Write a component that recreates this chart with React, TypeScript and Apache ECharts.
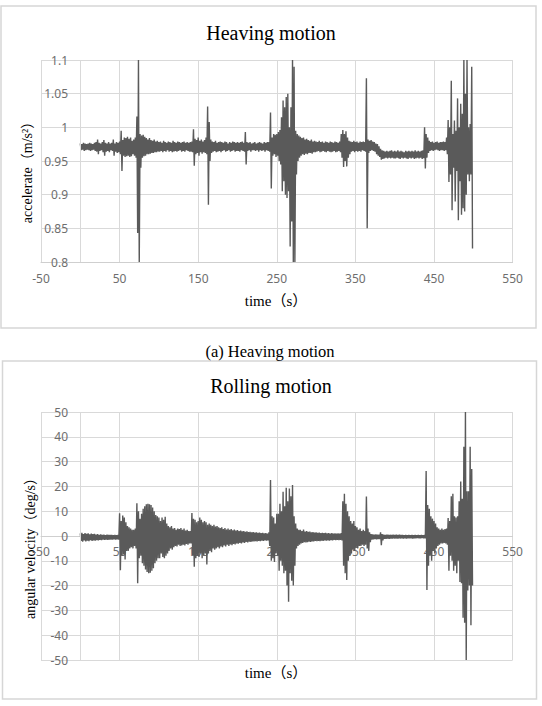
import React, { useEffect, useRef } from "react";
import * as echarts from "echarts";

// ---- Heaving motion: acceleration band (upper / lower sample at each 2 s step) ----
const heaveHigh: number[] = [
  0.976, 0.975, 0.977, 0.976, 0.975, 0.976, 0.977, 0.976, 0.975, 0.977,
  0.978, 0.982, 0.977, 0.976, 0.978, 0.981, 0.977, 0.976, 0.978, 0.976,
  0.977, 0.982, 0.976, 0.978, 0.977, 0.979, 0.995, 0.981, 0.985, 0.984,
  0.986, 0.983, 0.985, 0.980, 0.982, 0.985, 1.016, 1.100, 0.990, 0.988,
  0.989, 0.986, 0.984, 0.982, 0.984, 0.981, 0.980, 0.982, 0.979, 0.980,
  0.978, 0.979, 0.977, 0.980, 0.978, 0.977, 0.979, 0.978, 0.977, 0.980,
  0.978, 0.977, 0.979, 0.978, 0.977, 0.978, 0.979, 0.977, 0.978, 0.977,
  0.978, 0.979, 0.997, 0.983, 0.981, 0.985, 0.980, 0.982, 0.979, 0.981,
  0.985, 1.031, 1.008, 0.982, 0.979, 0.978, 0.980, 0.977, 0.978, 0.979,
  0.978, 0.977, 0.979, 0.978, 0.976, 0.978, 0.977, 0.979, 0.978, 0.977,
  0.978, 0.977, 0.978, 0.979, 0.977, 0.993, 0.978, 0.977, 0.978, 0.976,
  0.977, 0.978, 0.976, 0.977, 0.978, 0.977, 0.976, 0.978, 0.977, 0.978,
  0.978, 1.022, 0.985, 0.990, 0.989, 0.990, 0.993, 0.996, 1.015, 1.040,
  1.030, 1.045, 1.050, 1.000, 1.030, 1.100, 1.090, 0.995, 0.990, 0.988,
  0.986, 0.984, 0.985, 0.982, 0.983, 0.981, 0.980, 0.982, 0.979, 0.980,
  0.979, 0.978, 0.980, 0.978, 0.979, 0.977, 0.979, 0.978, 0.977, 0.979,
  0.978, 0.977, 0.979, 0.978, 0.977, 0.979, 0.990, 0.996, 0.990, 0.994,
  0.985, 0.980, 0.979, 0.978, 0.980, 0.978, 0.979, 0.977, 0.979, 0.978,
  0.979, 0.978, 1.073, 0.982, 0.980, 0.981, 0.979, 0.978, 0.976, 0.975,
  0.972, 0.968, 0.966, 0.965, 0.964, 0.965, 0.964, 0.965, 0.966, 0.964,
  0.965, 0.964, 0.966, 0.964, 0.965, 0.964, 0.963, 0.965, 0.964, 0.965,
  0.964, 0.965, 0.964, 0.966, 0.964, 0.965, 0.964, 0.965, 0.966, 1.000,
  0.990, 0.985, 0.980, 0.978, 0.979, 0.977, 0.978, 0.979, 0.977, 0.978,
  0.978, 0.979, 0.978, 0.985, 1.011, 1.000, 1.069, 0.990, 1.010, 0.995,
  1.043, 1.000, 1.035, 1.020, 1.100, 1.050, 1.100, 1.000, 1.005, 1.090,
];
const heaveLow: number[] = [
  0.966, 0.967, 0.965, 0.966, 0.967, 0.966, 0.965, 0.966, 0.967, 0.965,
  0.964, 0.960, 0.965, 0.966, 0.963, 0.958, 0.964, 0.965, 0.963, 0.966,
  0.965, 0.958, 0.964, 0.962, 0.963, 0.960, 0.935, 0.958, 0.956, 0.957,
  0.958, 0.956, 0.957, 0.960, 0.958, 0.955, 0.843, 0.800, 0.940, 0.955,
  0.957, 0.958, 0.960, 0.960, 0.961, 0.962, 0.962, 0.963, 0.963, 0.964,
  0.964, 0.965, 0.963, 0.965, 0.964, 0.966, 0.964, 0.965, 0.963, 0.964,
  0.965, 0.964, 0.965, 0.966, 0.964, 0.965, 0.964, 0.966, 0.965, 0.964,
  0.964, 0.963, 0.943, 0.960, 0.962, 0.958, 0.963, 0.961, 0.963, 0.962,
  0.960, 0.885, 0.950, 0.962, 0.964, 0.965, 0.963, 0.964, 0.965, 0.963,
  0.965, 0.966, 0.964, 0.965, 0.966, 0.964, 0.965, 0.966, 0.964, 0.965,
  0.965, 0.964, 0.966, 0.965, 0.964, 0.945, 0.965, 0.966, 0.964, 0.966,
  0.966, 0.965, 0.966, 0.964, 0.966, 0.965, 0.966, 0.964, 0.966, 0.965,
  0.964, 0.909, 0.958, 0.960, 0.956, 0.958, 0.950, 0.945, 0.905, 0.920,
  0.900, 0.895, 0.905, 0.823, 0.860, 0.800, 0.800, 0.930, 0.950, 0.955,
  0.958, 0.960, 0.959, 0.961, 0.960, 0.962, 0.962, 0.961, 0.963, 0.963,
  0.964, 0.965, 0.963, 0.964, 0.965, 0.964, 0.963, 0.965, 0.964, 0.963,
  0.964, 0.965, 0.963, 0.964, 0.965, 0.963, 0.955, 0.941, 0.950, 0.942,
  0.955, 0.960, 0.964, 0.965, 0.963, 0.965, 0.964, 0.965, 0.964, 0.966,
  0.965, 0.964, 0.850, 0.962, 0.965, 0.966, 0.965, 0.964, 0.960, 0.958,
  0.956, 0.952, 0.953, 0.954, 0.955, 0.954, 0.955, 0.954, 0.955, 0.954,
  0.954, 0.955, 0.954, 0.953, 0.955, 0.954, 0.955, 0.954, 0.953, 0.955,
  0.954, 0.955, 0.953, 0.954, 0.955, 0.954, 0.955, 0.953, 0.954, 0.939,
  0.955, 0.962, 0.965, 0.966, 0.965, 0.966, 0.967, 0.966, 0.965, 0.966,
  0.966, 0.965, 0.966, 0.960, 0.919, 0.930, 0.877, 0.940, 0.890, 0.935,
  0.862, 0.920, 0.870, 0.880, 0.875, 0.900, 0.930, 0.920, 0.930, 0.820,
];

// ---- Rolling motion: angular velocity band (upper / lower sample at each 2 s step) ----
const rollHigh: number[] = [
  1.0, 1.3, 0.8, 1.2, 0.9, 1.1, 0.7, 1.0, 0.8, 0.9,
  0.6, 0.8, 0.5, 0.7, 0.5, 0.6, 0.4, 0.6, 0.5, 0.5,
  0.5, 0.4, 0.5, 0.4, 0.5, 9.2, 6.0, 8.3, 7.5, 5.5,
  4.0, 3.5, 3.0, 2.5, 2.5, 3.0, 13.2, 10.0, 7.0, 9.0,
  11.0, 12.0, 12.8, 13.0, 12.8, 12.5, 11.5, 10.0, 8.5, 8.0,
  7.5, 6.0, 7.5, 6.5, 7.8, 5.0, 4.0, 3.5, 4.0, 3.0,
  3.2, 2.5, 3.0, 2.8, 3.2, 2.5, 3.0, 2.2, 2.5, 2.0,
  2.0, 9.3, 7.0, 6.5, 5.5, 6.0, 7.5, 6.5, 5.5, 6.0,
  5.5, 4.5, 5.0, 4.5, 4.0, 4.5, 3.8, 4.0, 3.5, 3.2,
  3.5, 2.8, 3.2, 2.6, 3.0, 2.5, 2.8, 2.3, 2.6, 2.2,
  2.4, 2.0, 2.2, 1.9, 2.0, 1.7, 1.9, 1.6, 1.7, 1.5,
  1.6, 1.4, 1.5, 1.3, 1.4, 1.2, 1.3, 1.1, 1.2, 1.0,
  1.5, 22.6, 8.0, 7.5, 5.0, 9.0, 9.0, 13.0, 10.0, 17.8,
  12.0, 19.5, 14.0, 19.2, 16.0, 20.6, 8.0, 5.0, 3.0, 2.5,
  2.5, 2.0, 2.6, 1.8, 2.0, 1.7, 1.8, 1.5, 1.6, 1.4,
  1.5, 1.3, 1.4, 1.2, 1.3, 1.2, 1.3, 1.1, 1.2, 1.0,
  1.2, 1.0, 1.1, 1.0, 1.1, 1.0, 1.2, 14.0, 17.0, 13.0,
  10.0, 8.0, 6.0, 5.0, 6.0, 4.0, 3.5, 2.5, 3.0, 2.0,
  2.5, 2.0, 15.9, 3.0, 1.5, 0.8, 0.7, 0.6, 0.7, 0.6,
  0.6, 1.5, 0.8, 0.6, 0.5, 0.6, 0.5, 0.5, 0.4, 0.5,
  0.4, 0.5, 0.4, 0.5, 0.4, 0.4, 0.3, 0.4, 0.3, 0.4,
  0.3, 0.4, 0.3, 0.4, 0.3, 0.4, 0.3, 0.4, 0.3, 0.4,
  26.2, 12.5, 11.0, 8.0, 7.0, 6.0, 5.0, 3.5, 3.0, 2.5,
  3.0, 2.5, 2.8, 3.0, 7.3, 6.0, 16.0, 17.0, 8.0, 7.5,
  8.0, 14.0, 22.0, 15.0, 36.0, 50.0, 18.0, 18.0, 36.0, 27.0,
];
const rollLow: number[] = [
  -2.0, -2.3, -1.8, -2.2, -1.9, -2.1, -1.7, -2.0, -1.8, -1.9,
  -1.7, -1.8, -1.6, -1.7, -1.5, -1.6, -1.5, -1.6, -1.5, -1.5,
  -1.5, -1.4, -1.5, -1.4, -1.5, -13.8, -8.0, -7.5, -9.5, -6.0,
  -6.0, -5.0, -4.5, -5.0, -4.0, -5.0, -19.0, -9.0, -8.0, -11.0,
  -12.0, -13.5, -14.5, -15.0, -14.8, -14.0, -13.0, -11.0, -10.0, -9.0,
  -9.0, -7.0, -8.5, -9.0, -8.0, -7.0, -6.0, -5.0, -5.5, -4.5,
  -4.0, -4.2, -3.5, -4.0, -3.8, -3.5, -3.8, -3.2, -3.5, -3.0,
  -3.0, -8.0, -12.4, -9.0, -8.0, -8.5, -7.0, -9.0, -8.0, -7.0,
  -11.5, -7.0, -6.0, -6.5, -5.0, -5.5, -5.0, -4.5, -5.0, -4.2,
  -4.5, -3.8, -4.2, -3.5, -4.0, -3.4, -3.7, -3.2, -3.4, -3.0,
  -3.1, -2.8, -3.0, -2.6, -2.8, -2.4, -2.6, -2.3, -2.4, -2.2,
  -2.2, -2.1, -2.2, -2.0, -2.1, -1.9, -2.0, -1.8, -1.9, -1.8,
  -4.0, -10.0, -9.0, -10.5, -7.0, -8.0, -14.0, -10.0, -12.0, -15.0,
  -14.0, -20.0, -26.5, -15.0, -18.0, -20.0, -12.0, -5.0, -4.0, -3.5,
  -3.0, -2.8, -2.5, -2.6, -2.5, -2.3, -2.4, -2.2, -2.2, -2.0,
  -2.1, -2.0, -2.1, -1.9, -2.0, -1.8, -1.9, -1.8, -1.9, -1.7,
  -1.8, -1.6, -1.7, -1.6, -1.7, -1.6, -1.8, -12.0, -15.0, -17.7,
  -10.0, -8.0, -7.0, -5.5, -6.0, -4.5, -5.0, -4.0, -4.0, -3.5,
  -4.0, -3.5, -5.0, -6.0, -2.5, -1.5, -1.4, -1.3, -1.4, -1.3,
  -1.3, -3.7, -1.8, -1.2, -1.2, -1.1, -1.2, -1.1, -1.1, -1.0,
  -1.0, -1.1, -1.0, -1.0, -0.9, -1.0, -0.9, -1.0, -0.9, -0.9,
  -0.9, -1.0, -0.9, -0.9, -0.8, -0.9, -0.9, -0.8, -0.9, -0.9,
  -21.8, -12.0, -8.0, -10.0, -6.0, -7.0, -5.0, -4.0, -3.5, -3.0,
  -3.0, -2.8, -3.0, -3.5, -14.0, -8.0, -10.0, -14.0, -12.0, -15.0,
  -10.0, -18.5, -19.0, -33.0, -35.0, -50.0, -22.0, -20.0, -36.0, -20.0,
];

const SAMPLE_STEP = 2; // seconds between successive high/low pairs
const xTicks = [-50, 50, 150, 250, 350, 450, 550];

function zigzag(high: number[], low: number[]): [number, number][] {
  const out: [number, number][] = [];
  for (let i = 0; i < high.length; i++) {
    out.push([i * SAMPLE_STEP, high[i]]);
    out.push([i * SAMPLE_STEP + 1, low[i]]);
  }
  return out;
}

const SERIF = '"Liberation Serif", "Times New Roman", "Noto Sans CJK SC", serif';
const SANS = '"Noto Sans", "Open Sans", "Liberation Sans", sans-serif';
const GRID = "#d9d9d9";
const LINE = "#5a5a5a";
const LABEL = "#6e6e6e";

// plot geometry of the rolling chart (px): used to lift its x axis onto the zero line
const ROLL_TOP = 412;
const ROLL_HEIGHT = 248;

export default function App() {
  const ref = useRef<HTMLDivElement>(null);

  useEffect(() => {
    if (!ref.current) return;
    const chart = echarts.init(ref.current, undefined, { renderer: "svg" });

    const xAxisBase = (gridIndex: number, margin: number, offset: number) => ({
      gridIndex,
      type: "value" as const,
      min: xTicks[0],
      max: xTicks[xTicks.length - 1],
      interval: 100,
      position: "bottom" as const,
      offset,
      axisTick: { show: false },
      axisLine: { show: true, onZero: false, lineStyle: { color: "#cfcfcf", width: 1 } },
      axisLabel: { color: LABEL, fontSize: 12, fontFamily: SANS, margin },
      splitLine: { show: true, lineStyle: { color: GRID, width: 1 } },
    });

    const yAxisBase = (gridIndex: number, min: number, max: number, interval: number) => ({
      gridIndex,
      type: "value" as const,
      min,
      max,
      interval,
      axisLine: { show: false },
      axisTick: { show: false },
      axisLabel: { color: LABEL, fontSize: 12, fontFamily: SANS, margin: -27 },
      splitLine: { show: true, lineStyle: { color: GRID, width: 1 } },
    });

    const zeroLine = {
      silent: true,
      symbol: "none",
      label: { show: false },
      lineStyle: { color: GRID, width: 1, type: "solid" },
      data: [{ xAxis: 0 }],
    };

    const axisTitle = (text: string, x: number, y: number, rotated: boolean) => ({
      type: "text",
      x,
      y,
      rotation: rotated ? Math.PI / 2 : 0,
      silent: true,
      style: {
        text,
        fontFamily: SERIF,
        fontSize: rotated ? 14 : 15,
        fill: "#000",
        textAlign: "center",
        textVerticalAlign: "middle",
      },
    });

    const option: any = {
      animation: false,
      title: [
        {
          text: "Heaving motion",
          left: "center",
          top: 23,
          padding: 0,
          textStyle: { fontFamily: SERIF, fontSize: 20, fontWeight: "normal", color: "#000" },
        },
        {
          text: "Rolling motion",
          left: "center",
          top: 376,
          padding: 0,
          textStyle: { fontFamily: SERIF, fontSize: 20, fontWeight: "normal", color: "#000" },
        },
      ],
      grid: [
        { left: 41, top: 60, width: 471.6, height: 202, outerBoundsMode: "none", containLabel: false },
        { left: 41, top: ROLL_TOP, width: 471.6, height: ROLL_HEIGHT, outerBoundsMode: "none", containLabel: false },
      ],
      xAxis: [xAxisBase(0, 10, 0), xAxisBase(1, 9, -ROLL_HEIGHT / 2)],
      yAxis: [yAxisBase(0, 0.8, 1.1, 0.05), yAxisBase(1, -50, 50, 10)],
      series: [
        {
          name: "Heaving",
          type: "line",
          xAxisIndex: 0,
          yAxisIndex: 0,
          data: zigzag(heaveHigh, heaveLow),
          showSymbol: false,
          symbol: "none",
          clip: true,
          lineStyle: { color: LINE, width: 1.4 },
          markLine: zeroLine,
        },
        {
          name: "Rolling",
          type: "line",
          xAxisIndex: 1,
          yAxisIndex: 1,
          data: zigzag(rollHigh, rollLow),
          showSymbol: false,
          symbol: "none",
          clip: true,
          lineStyle: { color: LINE, width: 1.4 },
          markLine: zeroLine,
        },
      ],
      graphic: [
        {
          type: "rect",
          z: -10,
          shape: { x: 1, y: 6, width: 535, height: 322 },
          style: { fill: "none", stroke: "#d6d6d6", lineWidth: 1.5 },
          silent: true,
        },
        {
          type: "rect",
          z: -10,
          shape: { x: 2.5, y: 361, width: 534, height: 338 },
          style: { fill: "none", stroke: "#d6d6d6", lineWidth: 1.5 },
          silent: true,
        },
        axisTitle("time（s）", 276, 301, false),
        axisTitle("accelerate（m/s²）", 27, 169, true),
        axisTitle("time（s）", 276, 673, false),
        axisTitle("angular velocity（deg/s）", 30, 545, true),
        {
          type: "text",
          x: 270,
          y: 351,
          style: {
            text: "(a) Heaving motion",
            fontFamily: SERIF,
            fontSize: 16.5,
            fill: "#000",
            textAlign: "center",
            textVerticalAlign: "middle",
          },
          silent: true,
        },
      ],
    };

    chart.setOption(option);
    return () => chart.dispose();
  }, []);

  return (
    <div
      ref={ref}
      style={{ position: "absolute", left: 0, top: 0, width: 542, height: 706, background: "#fff" }}
    />
  );
}
